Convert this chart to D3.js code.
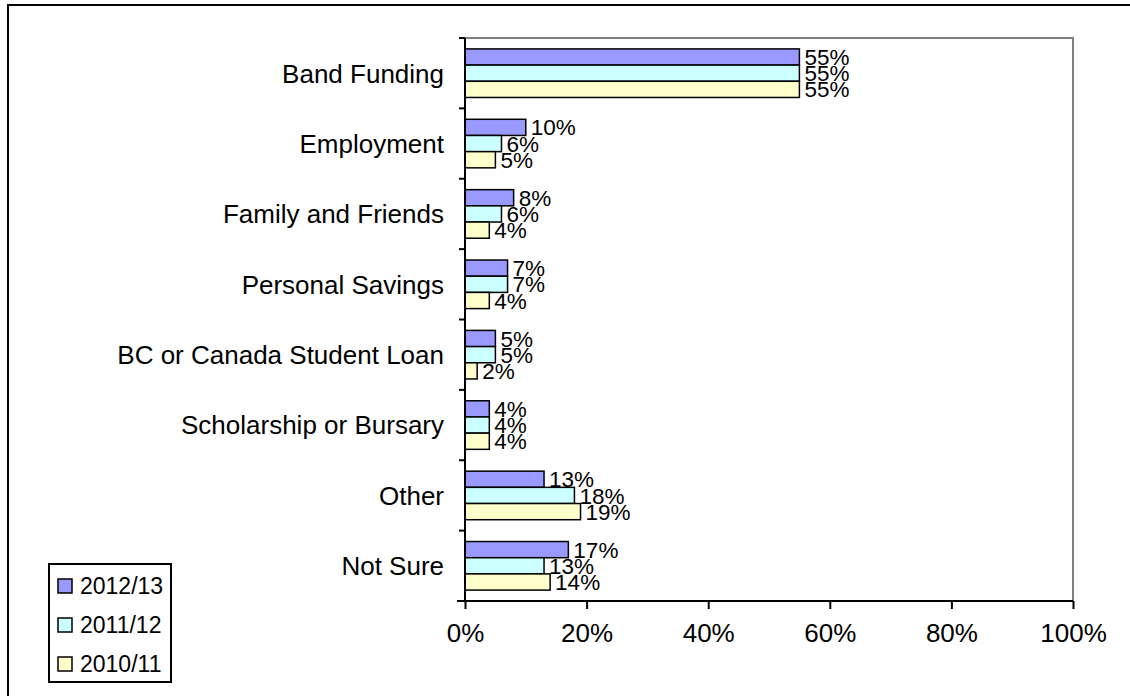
<!DOCTYPE html>
<html>
<head>
<meta charset="utf-8">
<script src="https://cdn.jsdelivr.net/npm/d3@7"></script>
<style>
  html, body { margin: 0; padding: 0; background: #fff; }
  svg { display: block; font-family: "Liberation Sans", Arial, sans-serif; }
</style>
</head>
<body>
<svg id="chart" width="1130" height="696"></svg>
<script>
const categories = ["Band Funding", "Employment", "Family and Friends", "Personal Savings",
  "BC or Canada Student Loan", "Scholarship or Bursary", "Other", "Not Sure"];
const seriesNames = ["2012/13", "2011/12", "2010/11"];
const seriesColors = ["#9999FF", "#CCFFFF", "#FFFFCC"];
const values2012 = [55, 10, 8, 7, 5, 4, 13, 17];
const values2011 = [55, 6, 6, 7, 5, 4, 18, 13];
const values2010 = [55, 5, 4, 4, 2, 4, 19, 14];
const tickValues = [0, 20, 40, 60, 80, 100];

const seriesValues = [values2012, values2011, values2010];

const svg = d3.select("#chart");

// outer frame
svg.append("rect").attr("x", 8).attr("y", 5).attr("width", 1140).attr("height", 710)
  .attr("fill", "none").attr("stroke", "#000").attr("stroke-width", 2);

const pLeft = 465, pRight = 1073, pTop = 38, pBottom = 601;

const x = d3.scaleLinear().domain([0, 100]).range([pLeft, pRight]);
const y = d3.scaleBand().domain(categories).range([pTop, pBottom])
  .paddingInner(0.31).paddingOuter(0.155);
const ySub = d3.scaleBand().domain(seriesNames).range([0, y.bandwidth()]);

// plot area border (gray top & right)
svg.append("path")
  .attr("d", `M${pLeft},${pTop}H${pRight}V${pBottom}`)
  .attr("fill", "none").attr("stroke", "#808080").attr("stroke-width", 2);

// bars
const groups = svg.append("g").selectAll("g").data(categories).join("g")
  .attr("transform", d => `translate(0,${y(d)})`);

groups.each(function(cat, ci) {
  const g = d3.select(this);
  seriesNames.forEach((s, si) => {
    const v = seriesValues[si][ci];
    g.append("rect")
      .attr("x", x(0)).attr("y", ySub(s))
      .attr("width", x(v) - x(0)).attr("height", ySub.bandwidth())
      .attr("fill", seriesColors[si]).attr("stroke", "#000").attr("stroke-width", 1.5);
  });
  seriesNames.forEach((s, si) => {
    const v = seriesValues[si][ci];
    g.append("text")
      .attr("x", x(v) + 5).attr("y", ySub(s) + ySub.bandwidth() / 2)
      .attr("dy", "0.36em")
      .attr("font-size", 22.5).attr("fill", "#000")
      .text(v + "%");
  });
});

// y axis
const yAxisG = svg.append("g");
yAxisG.append("line").attr("x1", pLeft).attr("x2", pLeft).attr("y1", pTop).attr("y2", pBottom)
  .attr("stroke", "#000").attr("stroke-width", 2);
const boundaries = d3.range(categories.length + 1).map(i => pTop + i * y.step());
yAxisG.selectAll("line.tick").data(boundaries).join("line").attr("class", "tick")
  .attr("x1", pLeft - 6).attr("x2", pLeft).attr("y1", d => d).attr("y2", d => d)
  .attr("stroke", "#000").attr("stroke-width", 2);
yAxisG.selectAll("text").data(categories).join("text")
  .attr("x", 444).attr("y", d => y(d) + y.bandwidth() / 2)
  .attr("dy", "0.36em").attr("text-anchor", "end")
  .attr("font-size", 26).attr("fill", "#000")
  .text(d => d);

// x axis
const xAxis = d3.axisBottom(x).tickValues(tickValues).tickFormat(d => d + "%")
  .tickSize(8).tickSizeOuter(0).tickPadding(15);
const xg = svg.append("g").attr("transform", `translate(0,${pBottom})`).call(xAxis);
xg.select(".domain").attr("stroke", "#000").attr("stroke-width", 2)
  .attr("d", `M${pLeft - 8},0H${pRight}`);
xg.selectAll(".tick line").attr("stroke", "#000").attr("stroke-width", 2);
xg.selectAll(".tick text").attr("font-size", 26).attr("fill", "#000")
  .attr("font-family", "'Liberation Sans', Arial, sans-serif");

// legend
const lg = svg.append("g");
lg.append("rect").attr("x", 49).attr("y", 564).attr("width", 122).attr("height", 118)
  .attr("fill", "#fff").attr("stroke", "#000").attr("stroke-width", 2);
seriesNames.forEach((s, i) => {
  const cy = 586 + i * 39;
  lg.append("rect").attr("x", 58).attr("y", cy - 7).attr("width", 14).attr("height", 14)
    .attr("fill", seriesColors[i]).attr("stroke", "#000").attr("stroke-width", 1.5);
  lg.append("text").attr("x", 80).attr("y", cy).attr("dy", "0.36em")
    .attr("font-size", 23).attr("fill", "#000").text(s);
});
</script>
</body>
</html>
